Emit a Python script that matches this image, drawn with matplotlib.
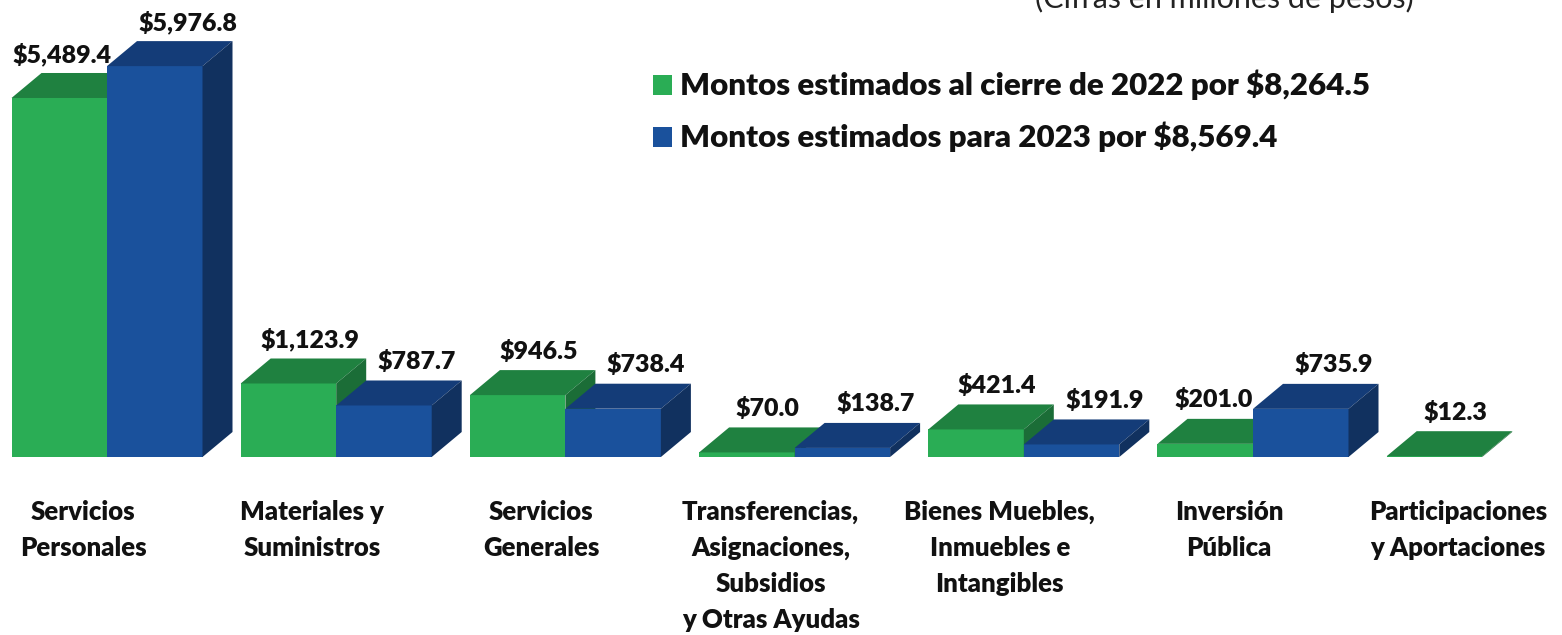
import matplotlib
matplotlib.use("Agg")
import matplotlib.pyplot as plt
from matplotlib.patches import Polygon, Rectangle

# ---- data ----
categories = ["Servicios\nPersonales", "Materiales y\nSuministros", "Servicios\nGenerales",
              "Transferencias,\nAsignaciones,\nSubsidios\ny Otras Ayudas",
              "Bienes Muebles,\nInmuebles e\nIntangibles", "Inversión\nPública",
              "Participaciones\ny Aportaciones"]
v2022 = [5489.4, 1123.9, 946.5, 70.0, 421.4, 201.0, 12.3]
v2023 = [5976.8, 787.7, 738.4, 138.7, 191.9, 735.9, 0.0]
labels2022 = ["$5,489.4", "$1,123.9", "$946.5", "$70.0", "$421.4", "$201.0", "$12.3"]
labels2023 = ["$5,976.8", "$787.7", "$738.4", "$138.7", "$191.9", "$735.9", ""]
legend_labels = ["Montos estimados al cierre de 2022 por $8,264.5",
                 "Montos estimados para 2023 por $8,569.4"]
note = "(Cifras en millones de pesos)"

# ---- styling / layout ----
W, H = 1562, 635
fig = plt.figure(figsize=(W / 100, H / 100), dpi=100)
ax = fig.add_axes([0, 0, 1, 1])
ax.set_axis_off()

PX_X = 229.2
X0 = 107
BASE = 457
PX_Y = 0.0654
UY = 1 / PX_Y
ax.set_xlim(-X0 / PX_X, (W - X0) / PX_X)
ax.set_ylim(-(H - BASE) * UY, BASE * UY)

w = 95.5 / PX_X
dx = 30 / PX_X
dy = 25 * UY

green = dict(front="#2AAD55", top="#1F8140", side="#1B6D37")
blue = dict(front="#1A519C", top="#143C78", side="#11315F")
FONT = "Lato"
WT = "heavy"
# horizontal label nudges (pixels) where the label is shifted to avoid overlap
green_nudge = {0: -18, 5: -13}

def draw_box(x0, h, c, z):
    ax.add_patch(Rectangle((x0, 0), w, h, facecolor=c["front"], edgecolor="none", zorder=z))
    ax.add_patch(Polygon([(x0, h), (x0 + w, h), (x0 + w + dx, h + dy), (x0 + dx, h + dy)],
                         closed=True, facecolor=c["top"], edgecolor="none", zorder=z))
    ax.add_patch(Polygon([(x0 + w, 0), (x0 + w, h), (x0 + w + dx, h + dy), (x0 + w + dx, dy)],
                         closed=True, facecolor=c["side"], edgecolor="none", zorder=z))

for i in range(len(categories)):
    draw_box(i - w, v2022[i], green, 2 + 2 * i)
    if v2023[i] > 0:
        draw_box(i, v2023[i], blue, 3 + 2 * i)
    gx = i - w / 2 + (21 + green_nudge.get(i, 0)) / PX_X
    ax.text(gx, v2022[i] + dy + 19 * UY, labels2022[i], ha="center", va="center",
            fontsize=18, fontweight=WT, family=FONT, color="#111111", zorder=30)
    if labels2023[i]:
        ax.text(i + w / 2 + 33 / PX_X, v2023[i] + dy + 19 * UY, labels2023[i], ha="center", va="center",
                fontsize=18, fontweight=WT, family=FONT, color="#111111", zorder=30)
    for k, line in enumerate(categories[i].split("\n")):
        ax.text(i - 24 / PX_X, -(512 - BASE + 36 * k) * UY, line, ha="center", va="center",
                fontsize=18.5, fontweight=WT, family=FONT, color="#111111")

for k, (lab, c) in enumerate(zip(legend_labels, [green, blue])):
    yc = -(85 + 52 * k - BASE) * UY
    ax.add_patch(Rectangle(((653 - X0) / PX_X, yc - 10 * UY), 19 / PX_X, 20 * UY,
                           facecolor=c["front"], edgecolor="none", zorder=40))
    ax.text((680 - X0) / PX_X, yc, lab, ha="left", va="center", fontsize=22.5,
            fontweight=WT, family=FONT, color="#111111")

ax.text((1224 - X0) / PX_X, -(-2 - BASE) * UY, note, ha="center", va="center", fontsize=22,
        family=FONT, color="#222222")

fig.savefig("out.png", dpi=100)
